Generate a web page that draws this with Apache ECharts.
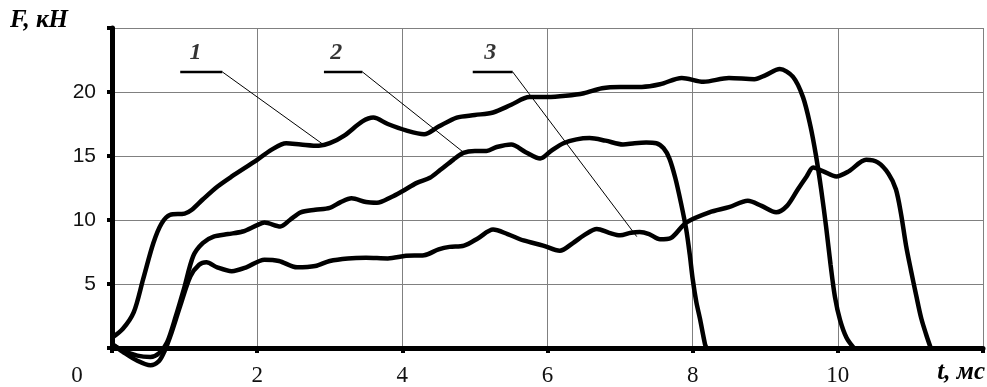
<!DOCTYPE html>
<html>
<head>
<meta charset="utf-8">
<script src="https://cdn.jsdelivr.net/npm/echarts@6/dist/echarts.min.js"></script>
<style>
html,body{margin:0;padding:0;background:#fff;}
#c{width:987px;height:387px;}
</style>
</head>
<body>
<div id="c"></div>
<script>
// ---- data (t in ms, F in kN) ----
const curve1 = [[0,0.8],[0.15,1.5],[0.3,2.8],[0.43,5.4],[0.57,8.2],[0.68,9.7],[0.8,10.4],[1.0,10.5],[1.1,10.8],[1.25,11.6],[1.45,12.6],[1.65,13.4],[2.0,14.7],[2.2,15.5],[2.4,16.0],[2.6,15.9],[2.85,15.8],[3.0,16.0],[3.2,16.6],[3.45,17.7],[3.6,18.0],[3.8,17.5],[4.05,17.0],[4.3,16.7],[4.5,17.3],[4.75,18.0],[5.0,18.2],[5.25,18.4],[5.5,19.0],[5.75,19.6],[6.0,19.6],[6.25,19.7],[6.5,19.9],[6.75,20.3],[7.0,20.4],[7.3,20.4],[7.55,20.6],[7.85,21.1],[8.15,20.8],[8.5,21.1],[8.85,21.0],[9.0,21.3],[9.2,21.8],[9.38,21.2],[9.52,19.6],[9.62,17.4],[9.7,15.0],[9.77,12.4],[9.84,9.4],[9.9,6.5],[9.96,4.0],[10.03,2.2],[10.12,0.8],[10.22,0.0]];
const curve2 = [[0,0.3],[0.15,-0.2],[0.35,-0.6],[0.53,-0.7],[0.65,-0.4],[0.76,0.45],[0.88,2.5],[0.99,4.6],[1.12,7.2],[1.25,8.2],[1.4,8.7],[1.6,8.9],[1.8,9.1],[2.0,9.6],[2.1,9.8],[2.32,9.5],[2.45,10.0],[2.6,10.6],[2.8,10.8],[3.0,10.95],[3.15,11.4],[3.3,11.7],[3.5,11.4],[3.65,11.35],[3.85,11.8],[4.0,12.25],[4.2,12.9],[4.38,13.3],[4.52,13.9],[4.7,14.7],[4.84,15.25],[5.0,15.4],[5.16,15.4],[5.3,15.7],[5.5,15.9],[5.7,15.3],[5.9,14.8],[6.05,15.4],[6.22,16.0],[6.4,16.3],[6.58,16.4],[6.8,16.2],[7.04,15.9],[7.2,16.0],[7.36,16.05],[7.5,16.0],[7.6,15.6],[7.68,14.8],[7.76,13.3],[7.84,11.3],[7.91,9.3],[7.96,7.3],[8.0,5.4],[8.05,3.6],[8.1,2.3],[8.17,0.3],[8.19,0]];
const curve3 = [[0,0.3],[0.15,-0.3],[0.35,-1.0],[0.53,-1.35],[0.65,-1.0],[0.72,-0.3],[0.82,1.2],[0.94,3.3],[1.08,5.6],[1.2,6.5],[1.3,6.7],[1.45,6.3],[1.65,6.0],[1.85,6.3],[2.1,6.9],[2.3,6.8],[2.55,6.3],[2.8,6.4],[3.0,6.8],[3.25,7.0],[3.5,7.05],[3.8,7.0],[4.05,7.2],[4.3,7.25],[4.5,7.7],[4.65,7.9],[4.85,8.0],[5.05,8.6],[5.25,9.25],[5.45,8.9],[5.67,8.4],[5.94,8.0],[6.17,7.6],[6.35,8.2],[6.5,8.8],[6.68,9.3],[6.85,9.0],[7.0,8.8],[7.15,9.0],[7.27,9.06],[7.4,8.9],[7.55,8.5],[7.7,8.6],[7.91,9.8],[8.23,10.6],[8.5,11.0],[8.76,11.5],[8.95,11.1],[9.15,10.6],[9.3,11.1],[9.45,12.4],[9.57,13.4],[9.66,14.1],[9.8,13.8],[9.98,13.4],[10.15,13.8],[10.39,14.7],[10.55,14.5],[10.7,13.6],[10.8,12.4],[10.87,10.5],[10.94,8.0],[11.01,6.0],[11.08,4.1],[11.15,2.3],[11.22,1.0],[11.28,0]];

const xTicks = [0,2,4,6,8,10,12];
const xTickLabels = ['0','2','4','6','8','10',''];
const yTicks = [0,5,10,15,20,25];
const yTickLabels = ['','5','10','15','20',''];

const xTitle = 't, мс';
const yTitle = 'F, кН';

// callouts: number, text position, horizontal bar [t0,t1] at level, target on curve
const calloutText = ['1','2','3'];
const calloutTextPos = [[1.15,23.05],[3.09,23.05],[5.21,23.05]];
const calloutBarLevel = 21.57;
const calloutBar = [[0.94,1.52],[2.92,3.45],[4.97,5.52]];
const calloutTarget = [[2.91,15.9],[4.84,15.3],[7.23,8.7]];

// ---- chart ----
const chart = echarts.init(document.getElementById('c'), null, {renderer:'canvas'});
const serif = '"Liberation Serif", "Times New Roman", serif';
const sans = '"Liberation Sans", Arial, sans-serif';

const curveStyle = {color:'#000', width:4.5};
const series = [curve1, curve2, curve3].map((d, i) => ({
  type:'line', name:'c'+(i+1), data:d, showSymbol:false, symbol:'none',
  smooth:0.3, clip:false,
  lineStyle:curveStyle, z:3
}));

calloutText.forEach((t, i) => {
  series.push({
    type:'line', data:[[calloutBar[i][0], calloutBarLevel],[calloutBar[i][1], calloutBarLevel]],
    symbol:'none', lineStyle:{color:'#000', width:2.5}, z:4
  });
  series.push({
    type:'line', data:[[calloutBar[i][1], calloutBarLevel], calloutTarget[i]],
    symbol:'none', lineStyle:{color:'#000', width:1}, z:4
  });
});
series.push({
  type:'scatter', symbolSize:1, itemStyle:{color:'rgba(0,0,0,0)'},
  data: calloutText.map((t, i) => ({value:calloutTextPos[i], name:t})),
  label:{show:true, position:'inside', formatter:p => p.name,
    fontFamily:serif, fontStyle:'italic', fontWeight:'bold', fontSize:24, color:'#000'},
  z:5
});

chart.setOption({
  animation:false,
  backgroundColor:'#fff',
  grid:{left:112, right:4, top:28, bottom:38, containLabel:false},
  xAxis:{
    type:'value', min:xTicks[0], max:xTicks[xTicks.length-1], interval:2,
    axisLine:{show:true, onZero:false, lineStyle:{color:'#000', width:5}},
    axisTick:{show:true, length:5, lineStyle:{color:'#000', width:4}},
    splitLine:{show:true, lineStyle:{color:'#808080', width:1}},
    axisLabel:{
      margin:16, fontFamily:serif, fontSize:23, color:'#111',
      formatter: v => {
        const idx = xTicks.indexOf(v);
        const s = idx >= 0 ? xTickLabels[idx] : '';
        return v === 0 ? '{z|' + s + '}' : s;
      },
      rich:{z:{fontFamily:serif, fontSize:23, color:'#111', padding:[0,70,0,0]}}
    }
  },
  yAxis:{
    type:'value', min:yTicks[0], max:yTicks[yTicks.length-1], interval:5,
    axisLine:{show:true, onZero:false, lineStyle:{color:'#000', width:5}},
    axisTick:{show:true, length:5, lineStyle:{color:'#000', width:4}},
    splitLine:{show:true, lineStyle:{color:'#808080', width:1}},
    axisLabel:{
      margin:16, fontFamily:sans, fontSize:21, color:'#111',
      formatter: v => { const idx = yTicks.indexOf(v); return idx >= 0 ? yTickLabels[idx] : ''; }
    }
  },
  graphic:[
    {type:'text', left:10, top:8, style:{text:yTitle, font:'italic bold 25px ' + serif, fill:'#000'}},
    {type:'text', right:2, top:360, style:{text:xTitle, font:'italic bold 25px ' + serif, fill:'#000'}}
  ],
  series:series
});
</script>
</body>
</html>
